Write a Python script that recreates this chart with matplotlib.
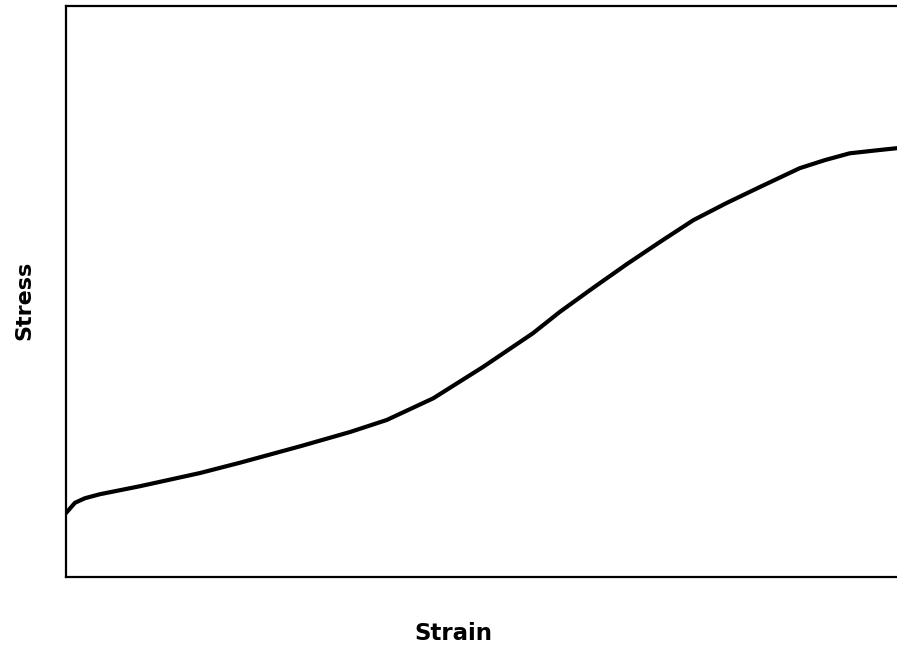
import matplotlib
matplotlib.use("Agg")
import matplotlib.pyplot as plt

strain = [0.0, 1.08, 2.29, 4.09, 6.5, 8.9, 16.1, 20.9, 28.2, 34.2, 38.6, 44.2,
          50.2, 56.2, 59.4, 63.4, 67.5, 71.5, 75.5, 79.5, 83.5, 88.3, 91.3,
          94.3, 97.4, 100.0]
stress = [11.2, 13.0, 13.8, 14.5, 15.2, 15.9, 18.2, 20.0, 22.9, 25.4, 27.5, 31.3,
          36.8, 42.7, 46.4, 50.6, 54.8, 58.7, 62.5, 65.5, 68.3, 71.6, 73.0,
          74.2, 74.7, 75.1]

fig = plt.figure(figsize=(8.97, 6.54), dpi=100)
ax = fig.add_axes([66/897, 77/654, 1 - 66/897, 571/654])
ax.plot(strain, stress, color="black", linewidth=3.0, solid_capstyle="round",
        solid_joinstyle="round")
ax.set_xlim(0, 100)
ax.set_ylim(0, 100)
ax.set_xticks([])
ax.set_yticks([])
ax.spines["right"].set_visible(False)
for s in ["left", "top", "bottom"]:
    ax.spines[s].set_linewidth(1.6)
    ax.spines[s].set_color("black")

fig.text(453/897, 1 - 633/654, "Strain", ha="center", va="center",
         fontsize=16.5, fontweight="bold")
fig.text(24/897, 1 - 300/654, "Stress", ha="center", va="center",
         rotation=90, fontsize=16, fontweight="bold")

fig.savefig("out.png", dpi=100)
